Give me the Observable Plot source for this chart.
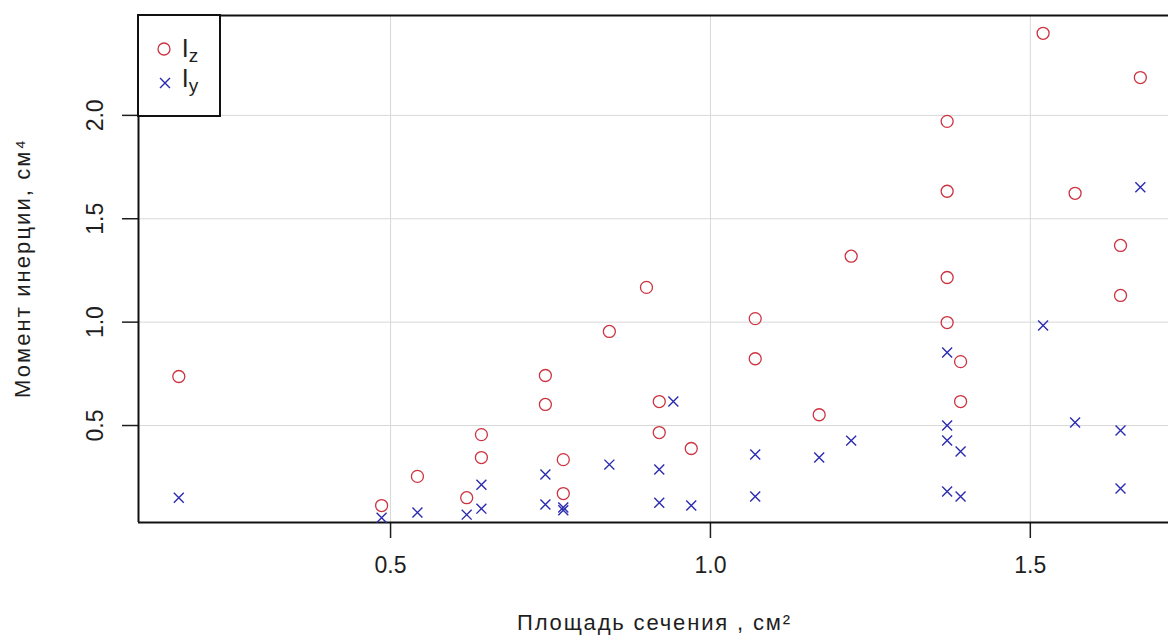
<!DOCTYPE html>
<html>
<head>
<meta charset="utf-8">
<script src="https://cdn.jsdelivr.net/npm/d3@7"></script>
<script src="https://cdn.jsdelivr.net/npm/@observablehq/plot@0.6"></script>
<style>
  html, body { margin: 0; padding: 0; background: #fff; }
  #chart svg { display: block; font-family: "Liberation Sans", Arial, sans-serif; }
</style>
</head>
<body>
<div id="chart"></div>
<script>
// Data
const izArea = [0.169, 0.486, 0.542, 0.619, 0.642, 0.642, 0.742, 0.742, 0.770, 0.770, 0.842, 0.900, 0.920, 0.920, 0.970, 1.070, 1.070, 1.170, 1.220, 1.370, 1.370, 1.370, 1.370, 1.391, 1.391, 1.520, 1.570, 1.641, 1.641, 1.672];
const izValue = [0.737, 0.113, 0.254, 0.151, 0.456, 0.345, 0.742, 0.602, 0.335, 0.171, 0.955, 1.168, 0.616, 0.466, 0.389, 1.017, 0.823, 0.552, 1.319, 1.971, 1.633, 1.216, 0.998, 0.809, 0.616, 2.397, 1.623, 1.371, 1.129, 2.183];
const iyArea = [0.169, 0.486, 0.542, 0.619, 0.642, 0.642, 0.742, 0.742, 0.770, 0.770, 0.842, 0.920, 0.920, 0.942, 0.970, 1.070, 1.070, 1.170, 1.220, 1.370, 1.370, 1.370, 1.370, 1.391, 1.391, 1.520, 1.570, 1.641, 1.641, 1.672];
const iyValue = [0.151, 0.054, 0.079, 0.069, 0.214, 0.098, 0.263, 0.118, 0.104, 0.090, 0.311, 0.287, 0.127, 0.616, 0.113, 0.360, 0.157, 0.345, 0.427, 0.853, 0.500, 0.428, 0.181, 0.374, 0.157, 0.984, 0.515, 0.476, 0.195, 1.652];
const xTicks = [0.5, 1.0, 1.5];
const yTicks = [0.5, 1.0, 1.5, 2.0];
const xTitle = "Площадь сечения , см²";
const yTitle = "Момент инерции, см⁴";
const seriesNames = ["I", "I"];
const seriesSubs = ["z", "y"];

const izData = izArea.map((a, i) => ({area: a, value: izValue[i]}));
const iyData = iyArea.map((a, i) => ({area: a, value: iyValue[i]}));

const xDomain = [0.106, 1.716];
const yDomain = [0.031, 2.483];
const redC = "#cc3340";
const blueC = "#2b2bb0";
const textC = "#1e1e1e";
const fmt = d3.format(".1f");

const plot = Plot.plot({
  width: 1168,
  height: 642,
  marginLeft: 138,
  marginRight: 0,
  marginTop: 15,
  marginBottom: 120,
  style: {fontFamily: "Liberation Sans, Arial, sans-serif", fontSize: "16px", background: "#fff"},
  x: {domain: xDomain, label: null},
  y: {domain: yDomain, label: null},
  marks: [
    Plot.gridX(xTicks, {stroke: "#d8d8d8", strokeOpacity: 1, strokeWidth: 1}),
    Plot.gridY(yTicks, {stroke: "#d8d8d8", strokeOpacity: 1, strokeWidth: 1}),
    Plot.axisX(xTicks, {tickSize: 16, tickFormat: () => "", stroke: textC, strokeWidth: 1.5}),
    Plot.axisY(yTicks, {tickSize: 16, tickFormat: () => "", stroke: textC, strokeWidth: 1.5}),
    Plot.text(xTicks, {x: d => d, text: d => fmt(d), frameAnchor: "bottom", dy: 50, fontSize: 23, fill: textC}),
    Plot.text(yTicks, {y: d => d, text: d => fmt(d), frameAnchor: "left", textAnchor: "middle", dx: -43, rotate: -90, fontSize: 23, fill: textC}),
    Plot.ruleY([yDomain[0], yDomain[1]], {stroke: "#111", strokeWidth: 2}),
    Plot.ruleX([xDomain[0]], {stroke: "#111", strokeWidth: 2}),
    Plot.dot(izData, {x: "area", y: "value", r: 6, stroke: redC, strokeWidth: 1.3, fill: "none"}),
    Plot.dot(iyData, {x: "area", y: "value", r: 4.6, symbol: "times", stroke: blueC, strokeWidth: 1.4}),
    Plot.text([xTitle], {frameAnchor: "bottom", dy: 107, fontSize: 22, fill: textC}),
    Plot.text([yTitle], {frameAnchor: "left", textAnchor: "middle", dx: -116, rotate: -90, fontSize: 22, fill: textC})
  ]
});

const svg = d3.select(plot);
// stretch titles to the reference widths
svg.selectAll("text").each(function() {
  const t = this.textContent;
  if (t === xTitle) d3.select(this).attr("textLength", 273).attr("lengthAdjust", "spacing");
  if (t === yTitle) d3.select(this).attr("textLength", 258).attr("lengthAdjust", "spacing");
});

// Legend box (top-left of the frame)
const lg = svg.append("g");
lg.append("rect").attr("x", 138).attr("y", 15).attr("width", 82).attr("height", 101)
  .attr("fill", "#fff").attr("stroke", "#111").attr("stroke-width", 2);
const symC = d3.symbol().type(d3.symbolCircle).size(Math.PI * 36);
const symT = d3.symbol().type(d3.symbolTimes).size(Math.PI * 4.6 * 4.6);
lg.append("path").attr("d", symC()).attr("transform", "translate(164,49)")
  .attr("fill", "none").attr("stroke", redC).attr("stroke-width", 1.3);
lg.append("path").attr("d", symT()).attr("transform", "translate(165,83)")
  .attr("fill", "none").attr("stroke", blueC).attr("stroke-width", 1.4);
[57, 87].forEach((yy, i) => {
  const t = lg.append("text").attr("x", 190).attr("y", yy)
    .attr("font-size", 25).attr("fill", textC);
  t.append("tspan").text(seriesNames[i]);
  t.append("tspan").attr("dy", 5).attr("font-size", 19).text(seriesSubs[i]);
});

document.getElementById("chart").appendChild(plot);
</script>
</body>
</html>
